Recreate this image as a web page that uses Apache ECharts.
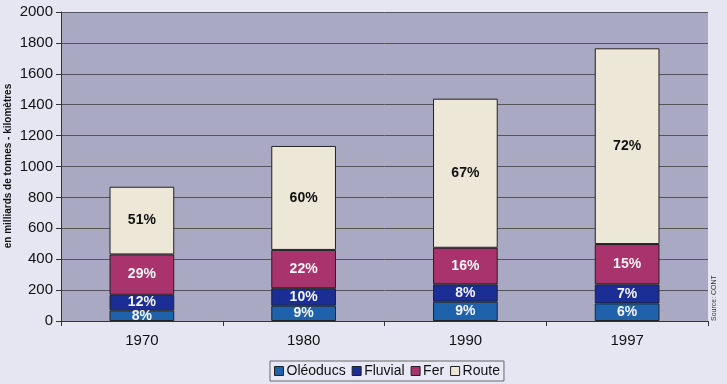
<!DOCTYPE html>
<html><head><meta charset="utf-8">
<script src="https://cdn.jsdelivr.net/npm/echarts@6/dist/echarts.min.js"></script>
<style>html,body{margin:0;padding:0;background:#e6e6f3;}#c{width:727px;height:384px;}</style>
</head><body><div id="c"></div>
<script>
const categories = ['1970', '1980', '1990', '1997'];
const oleoducs = [69, 99, 125, 114];
const fluvial = [101, 113, 112, 123];
const fer = [261, 248, 237, 261];
const route = [438, 673, 965, 1267];
const oleoducsPct = ['8%', '9%', '9%', '6%'];
const fluvialPct = ['12%', '10%', '8%', '7%'];
const ferPct = ['29%', '22%', '16%', '15%'];
const routePct = ['51%', '60%', '67%', '72%'];
const yTicks = [0, 200, 400, 600, 800, 1000, 1200, 1400, 1600, 1800, 2000];
const yAxisTitle = 'en milliards de tonnes - kilomètres';

function mk(name, data, pct, color, textColor) {
  return {
    name: name, type: 'bar', stack: 'total', data: data, barWidth: '40%',
    itemStyle: { color: color, borderColor: '#222', borderWidth: 1 },
    label: { show: true, position: 'inside', formatter: p => pct[p.dataIndex],
      color: textColor, fontWeight: 'bold', fontSize: 14, fontFamily: 'Liberation Sans, Arial' }
  };
}
const chart = echarts.init(document.getElementById('c'));
chart.setOption({
  backgroundColor: '#e6e6f3',
  animation: false,
  textStyle: { fontFamily: 'Liberation Sans, Arial' },
  grid: { left: 61, right: 19, top: 12, bottom: 63, show: true, backgroundColor: '#a9a9c3', borderWidth: 0, containLabel: false, outerBoundsMode: 'none' },
  legend: {
    bottom: 3, left: 270, itemWidth: 9, itemHeight: 9, itemGap: 6,
    borderColor: '#666', borderWidth: 1, padding: [3, 4, 3, 4], backgroundColor: '#e9e9f5',
    textStyle: { fontSize: 14, color: '#111', padding: [0, 0, 0, -2] },
    data: ['Oléoducs', 'Fluvial', 'Fer', 'Route'].map(n => ({ name: n, icon: 'rect', itemStyle: { borderColor: '#222', borderWidth: 1 } }))
  },
  xAxis: {
    type: 'category', data: categories,
    axisLine: { lineStyle: { color: '#333' } },
    axisTick: { show: true, alignWithLabel: false, length: 5, lineStyle: { color: '#333' } },
    axisLabel: { fontSize: 15, color: '#111', margin: 12 }
  },
  yAxis: {
    type: 'value', min: 0, max: 2000, interval: 200,
    axisLine: { show: true, lineStyle: { color: '#333' } },
    axisTick: { show: true, length: 5, lineStyle: { color: '#333' } },
    axisLabel: { fontSize: 15, color: '#111', margin: 8, formatter: v => yTicks.includes(v) ? String(v) : '' },
    splitLine: { lineStyle: { color: '#555', width: 1 } }
  },
  series: [
    mk('Oléoducs', oleoducs, oleoducsPct, '#1f62ab', '#f4f4f4'),
    mk('Fluvial', fluvial, fluvialPct, '#1a2e95', '#f4f4f4'),
    mk('Fer', fer, ferPct, '#a8336d', '#f4f4f4'),
    mk('Route', route, routePct, '#ede7d7', '#111')
  ],
  graphic: [{
    type: 'text', x: 8, y: 166, rotation: Math.PI / 2,
    style: { text: yAxisTitle, fontSize: 10, fontWeight: 'bold', fill: '#111', align: 'center', verticalAlign: 'middle' }
  }, {
    type: 'text', x: 714, y: 321, rotation: Math.PI / 2,
    style: { text: 'Source: CONT', fontSize: 7, fill: '#333', align: 'left', verticalAlign: 'middle' }
  }]
});
</script></body></html>
